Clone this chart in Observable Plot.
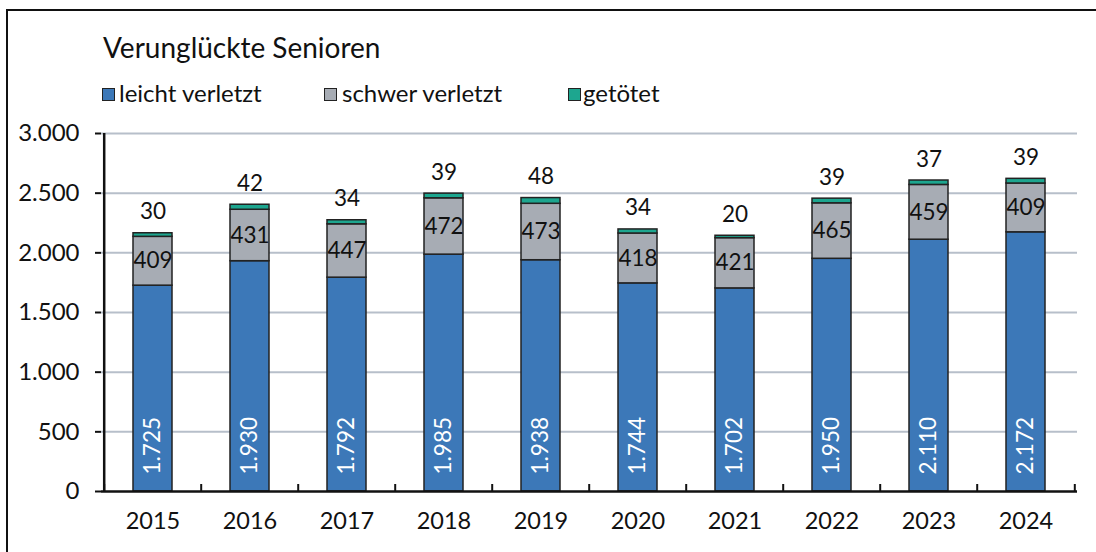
<!DOCTYPE html>
<html>
<head>
<meta charset="utf-8">
<script src="https://cdn.jsdelivr.net/npm/d3@7"></script>
<script src="https://cdn.jsdelivr.net/npm/@observablehq/plot@0.6"></script>
<style>
  html, body { margin: 0; padding: 0; background: #fff; }
  #wrap { position: relative; width: 1096px; height: 552px; overflow: hidden; font-family: Lato, "Open Sans", sans-serif; color: #111; }
  #frame { position: absolute; left: 6px; top: 9px; width: 1200px; height: 700px; border-left: 2px solid #111; border-top: 2px solid #111; }
  #title { position: absolute; left: 103px; top: 31px; font-size: 28px; line-height: 1.2; white-space: nowrap; }
  #legend { position: absolute; left: 0; top: 79px; font-size: 24px; line-height: 1.2; }
  .lt { position: absolute; top: 0; white-space: nowrap; }
  .sw { position: absolute; top: 9px; width: 11px; height: 11px; border: 1.5px solid #222; }
  #chart { position: absolute; left: 0; top: 115px; }
</style>
</head>
<body>
<div id="wrap">
  <div id="frame"></div>
  <div id="title">Verunglückte Senioren</div>
  <div id="legend"></div>
  <div id="chart"></div>
</div>
<script>
const years = ["2015","2016","2017","2018","2019","2020","2021","2022","2023","2024"];
const leicht = [1725,1930,1792,1985,1938,1744,1702,1950,2110,2172];
const schwer = [409,431,447,472,473,418,421,465,459,409];
const getoetet = [30,42,34,39,48,34,20,39,37,39];
const series = ["leicht verletzt","schwer verletzt","getötet"];
const colors = ["#3c78b8","#a7acb4","#1da68f"];
const yTicks = [0,500,1000,1500,2000,2500,3000];

const de = d3.formatLocale({decimal: ",", thousands: ".", grouping: [3], currency: ["", "€"]});
const fmt = de.format(",");

const long = [];
years.forEach((y, i) => {
  long.push({year: y, series: series[0], value: leicht[i]});
  long.push({year: y, series: series[1], value: schwer[i]});
  long.push({year: y, series: series[2], value: getoetet[i]});
});
const rows = years.map((y, i) => ({year: y, leicht: leicht[i], schwer: schwer[i], tot: getoetet[i]}));

// legend
const swX = [102, 324, 568];
const txX = [119, 342, 583];
const lg = document.getElementById("legend");
series.forEach((s, i) => {
  const sw = document.createElement("div");
  sw.className = "sw";
  sw.style.left = swX[i] + "px";
  sw.style.background = colors[i];
  lg.appendChild(sw);
  const t = document.createElement("div");
  t.className = "lt";
  t.style.left = txX[i] + "px";
  t.textContent = s;
  lg.appendChild(t);
});

const W = 1096, H = 437, mL = 101, mR = 19, mT = 18, mB = 61;
const step = (W - mL - mR) / years.length;

const plot = Plot.plot({
  width: W, height: H,
  marginLeft: mL, marginRight: mR, marginTop: mT, marginBottom: mB,
  style: {fontFamily: "Lato, 'Open Sans', sans-serif", fontSize: "23px", color: "#111", background: "transparent", overflow: "visible"},
  x: {domain: years, paddingInner: 0.6, paddingOuter: 0.3, label: null},
  y: {domain: [0, 3000], label: null},
  color: {domain: series, range: colors},
  marks: [
    Plot.ruleY(yTicks.filter(d => d > 0), {stroke: "#b7bfca", strokeWidth: 2}),
    Plot.axisY({ticks: yTicks, tickFormat: fmt, tickSize: 6, tickPadding: 16, stroke: "#111", strokeWidth: 2, strokeOpacity: 1, fontSize: 24, label: null}),
    Plot.axisX({tickSize: 0, tickPadding: 21, fontSize: 23.5, label: null}),
    Plot.barY(long, {x: "year", y: "value", fill: "series", stroke: "#222", strokeWidth: 1.5, order: series}),
    Plot.ruleX(years, {x: d => d, y1: 0, y2: 0, insetTop: -7, dx: -step / 2, stroke: "#111", strokeWidth: 2}),
    Plot.ruleX(years.slice(-1), {x: d => d, y1: 0, y2: 0, insetTop: -7, dx: step / 2, stroke: "#111", strokeWidth: 2}),
    Plot.ruleY([0], {stroke: "#111", strokeWidth: 2.5}),
    Plot.ruleX([0], {x: () => years[0], y1: 0, y2: 3000, dx: -step / 2, stroke: "#111", strokeWidth: 2.5}),
    Plot.text(rows, {x: "year", y: 0, text: d => fmt(d.leicht), rotate: -90, textAnchor: "start", dy: -17, fill: "white", fontSize: 22.5}),
    Plot.text(rows, {x: "year", y: d => d.leicht + d.schwer / 2, text: d => fmt(d.schwer), fill: "#111", fontSize: 22.5}),
    Plot.text(rows, {x: "year", y: d => d.leicht + d.schwer + d.tot, text: d => fmt(d.tot), lineAnchor: "bottom", dy: -14, fill: "#111", fontSize: 22.5})
  ]
});
document.getElementById("chart").appendChild(plot);
</script>
</body>
</html>
